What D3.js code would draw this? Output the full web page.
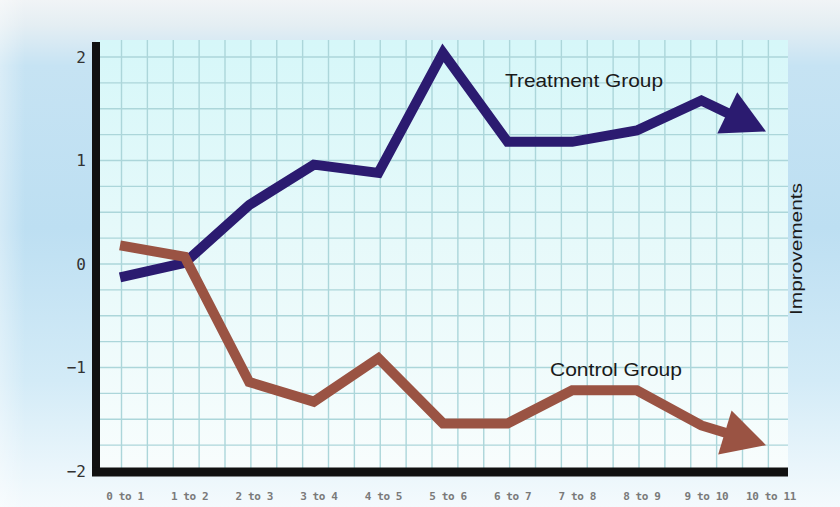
<!DOCTYPE html>
<html>
<head>
<meta charset="utf-8">
<script src="https://cdn.jsdelivr.net/npm/d3@7"></script>
<style>
  html, body { margin: 0; padding: 0; background: #ffffff; }
  svg { display: block; }
</style>
</head>
<body>
<svg id="chart" width="840" height="507"></svg>
<script>
// ---- data ----
const categories = ["0 to 1", "1 to 2", "2 to 3", "3 to 4", "4 to 5", "5 to 6",
                    "6 to 7", "7 to 8", "8 to 9", "9 to 10", "10 to 11"];
const treatment = [-0.13, 0.01, 0.57, 0.96, 0.88, 2.04, 1.18, 1.18, 1.29, 1.58, 1.28];
const control   = [0.18, 0.07, -1.14, -1.33, -0.91, -1.54, -1.54, -1.22, -1.22, -1.56, -1.75];
const yTicks = [2, 1, 0, -1, -2];
const seriesNames = ["Treatment Group", "Control Group"];
const axisTitle = "Improvements";

// ---- layout ----
const W = 840, H = 507;
const svg = d3.select("#chart");
const defs = svg.append("defs");

const x = d3.scalePoint().domain(categories).range([120, 766]);
const y = d3.scaleLinear().domain([-2, 2]).range([471, 57]);

const panel = { left: 96, right: 788, top: 40, bottom: 472 };

// background gradient
const bg = defs.append("linearGradient").attr("id", "bg").attr("x1", 0).attr("y1", 0).attr("x2", 0).attr("y2", 1);
[[0, "#f1f4f6"], [0.05, "#e4eef3"], [0.13, "#c6e3f3"], [0.45, "#bddff2"], [0.75, "#d3ebf7"], [1, "#f4fafd"]]
  .forEach(([o, c]) => bg.append("stop").attr("offset", o).attr("stop-color", c));
svg.append("rect").attr("width", W).attr("height", H).attr("fill", "url(#bg)");

const side = defs.append("linearGradient").attr("id", "side").attr("x1", 0).attr("y1", 0).attr("x2", 1).attr("y2", 0);
[[0, "#ffffff", 0.35], [0.03, "#ffffff", 0], [1, "#ffffff", 0]]
  .forEach(([o, c, a]) => side.append("stop").attr("offset", o).attr("stop-color", c).attr("stop-opacity", a));
svg.append("rect").attr("width", W).attr("height", H).attr("fill", "url(#side)");

// panel gradient
const pg = defs.append("linearGradient").attr("id", "pg").attr("x1", 0).attr("y1", 0).attr("x2", 0).attr("y2", 1);
[[0, "#d6f7f9"], [0.45, "#e6f9fa"], [1, "#f8fdfd"]]
  .forEach(([o, c]) => pg.append("stop").attr("offset", o).attr("stop-color", c));
svg.append("rect")
  .attr("x", panel.left).attr("y", panel.top)
  .attr("width", panel.right - panel.left).attr("height", panel.bottom - panel.top)
  .attr("fill", "url(#pg)");

// grid (every 0.25 unit, square cells)
const step = y(0) - y(0.25);
const gridG = svg.append("g").attr("stroke", "#acd6da").attr("stroke-width", 1.4);
const hVals = d3.range(-7, 9).map(i => i * 0.25).filter(v => y(v) > panel.top && y(v) < panel.bottom - 3);
gridG.selectAll("line.h").data(hVals).join("line").attr("class", "h")
  .attr("x1", panel.left).attr("x2", panel.right)
  .attr("y1", d => y(d)).attr("y2", d => y(d));
const vPos = d3.range(x(categories[0]) + 1.5, panel.right, step);
gridG.selectAll("line.v").data(vPos).join("line").attr("class", "v")
  .attr("x1", d => d).attr("x2", d => d)
  .attr("y1", panel.top).attr("y2", panel.bottom);

// axes
svg.append("line").attr("x1", 96).attr("x2", 96).attr("y1", 42).attr("y2", 476)
  .attr("stroke", "#111").attr("stroke-width", 8);
svg.append("line").attr("x1", 92).attr("x2", panel.right).attr("y1", y(-2) + 1).attr("y2", y(-2) + 1)
  .attr("stroke", "#111").attr("stroke-width", 9);

// y tick labels
svg.append("g").selectAll("text").data(yTicks).join("text")
  .attr("x", 86).attr("y", d => y(d)).attr("dy", "0.36em")
  .attr("text-anchor", "end")
  .attr("font-family", "DejaVu Sans Mono, monospace").attr("font-size", 16)
  .attr("fill", "#333")
  .text(d => d < 0 ? "\u2212" + Math.abs(d) : d);

// x tick labels
svg.append("g").selectAll("text").data(categories).join("text")
  .attr("x", d => x(d) + 5).attr("y", 496).attr("dy", "0.35em")
  .attr("text-anchor", "middle")
  .attr("font-family", "DejaVu Sans Mono, monospace").attr("font-size", 11)
  .attr("font-weight", "bold").attr("letter-spacing", -0.4)
  .attr("fill", "#7a7a7a")
  .text(d => d);

// series with arrowheads
function drawSeries(vals, color) {
  const pts = vals.map((v, i) => [x(categories[i]), y(v)]);
  const tip = pts[pts.length - 1];
  const prev = pts[pts.length - 2];
  const dx = tip[0] - prev[0], dy = tip[1] - prev[1];
  const len = Math.hypot(dx, dy);
  const ux = dx / len, uy = dy / len;
  const L = 43, hw = 23;
  const base = [tip[0] - ux * L, tip[1] - uy * L];
  const linePts = pts.slice(0, -1).concat([[base[0] + ux * 4, base[1] + uy * 4]]);
  svg.append("path")
    .attr("d", d3.line()(linePts))
    .attr("fill", "none").attr("stroke", color).attr("stroke-width", 10)
    .attr("stroke-linejoin", "miter").attr("stroke-miterlimit", 4);
  const tri = [
    tip,
    [base[0] - uy * hw, base[1] + ux * hw],
    [base[0] + uy * hw, base[1] - ux * hw]
  ];
  svg.append("path").attr("d", d3.line()(tri) + "Z").attr("fill", color);
}
drawSeries(treatment, "#2b1b70");
drawSeries(control, "#9a5343");

// series labels
svg.append("text").attr("x", 505).attr("y", 87)
  .attr("font-family", "Liberation Sans, Arial, sans-serif").attr("font-size", 19)
  .attr("textLength", 158).attr("lengthAdjust", "spacingAndGlyphs")
  .attr("fill", "#1a1a1a").text(seriesNames[0]);
svg.append("text").attr("x", 550).attr("y", 376)
  .attr("font-family", "Liberation Sans, Arial, sans-serif").attr("font-size", 19)
  .attr("textLength", 132).attr("lengthAdjust", "spacingAndGlyphs")
  .attr("fill", "#1a1a1a").text(seriesNames[1]);

// axis title (right side, rotated)
svg.append("text")
  .attr("transform", "translate(802,249) rotate(-90)")
  .attr("text-anchor", "middle")
  .attr("font-family", "Liberation Sans, Arial, sans-serif").attr("font-size", 16)
  .attr("textLength", 132).attr("lengthAdjust", "spacingAndGlyphs")
  .attr("fill", "#1a1a1a").text(axisTitle);
</script>
</body>
</html>
